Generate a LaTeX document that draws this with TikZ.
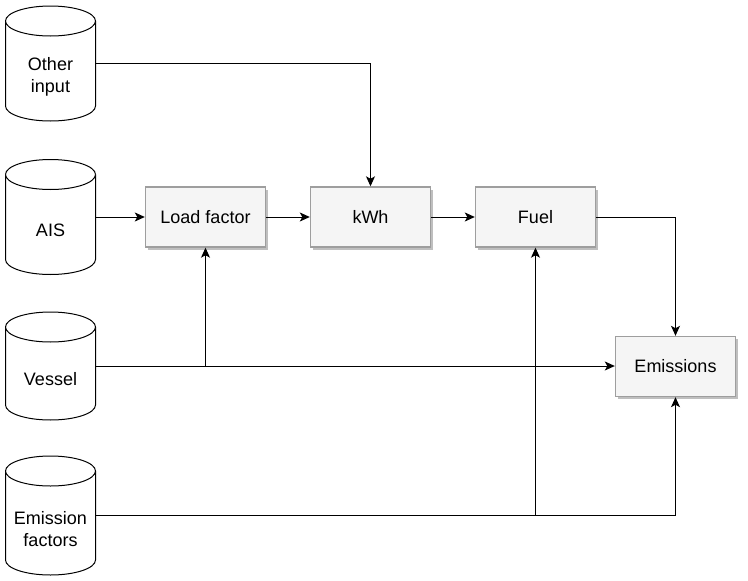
\documentclass[tikz,border=0pt]{standalone}
\usepackage{fontspec}
\setmainfont{Liberation Sans}
\usetikzlibrary{arrows.meta,shadows,calc}
\tikzset{
  every node/.style={font=\fontsize{18}{21.5}\selectfont},
  conn/.style={draw=black,line width=1pt,-{Stealth[length=10pt,width=9pt,inset=2.5pt]}},
  procbox/.style={draw=black!38,fill=black!4,line width=1.4pt,minimum width=120pt,minimum height=60pt,inner sep=0pt,
    drop shadow={shadow xshift=2.5pt,shadow yshift=-2.5pt,fill=black,opacity=0.25}},
  dbbody/.style={draw=black,fill=white,line width=1pt},
  dbanchor/.style={minimum width=90pt,inner sep=0pt,outer sep=0pt},
  dblabel/.style={align=center,inner sep=0pt}
}
% name, centre y, height, text
\newcommand{\dbcyl}[4]{%
  \node[dbanchor,minimum height=#3pt] (#1) at (50.5,#2) {};
  \draw[dbbody] ($(#1.north west)+(0,15)$) -- ($(#1.south west)+(0,-15)$)
     arc[start angle=180,end angle=0,x radius=45,y radius=15]
     -- ($(#1.north east)+(0,15)$)
     arc[start angle=0,end angle=-180,x radius=45,y radius=15] -- cycle;
  \draw[dbbody] ($(#1.north west)+(0,15)$) arc[start angle=180,end angle=0,x radius=45,y radius=15];
  \node[dblabel] (#1-label) at (50.5,#2+13.5) {#4};
}
\begin{document}
\begin{tikzpicture}[x=1pt,y=-1pt]
\useasboundingbox (0,0) rectangle (748,581);
\dbcyl{other}{63.5}{115}{Other\\input}
\dbcyl{ais}{217}{115}{AIS}
\dbcyl{vessel}{366}{108}{Vessel}
\dbcyl{ef}{515.5}{119}{Emission\\factors}
\node[procbox] (load) at (205.5,217) {Load factor};
\node[procbox] (kwh) at (370.5,217) {kWh};
\node[procbox] (fuel) at (535.5,217) {Fuel};
\node[procbox] (emis) at (675.5,366.5) {Emissions};
\draw[conn] (other.east) -| (kwh.north);
\draw[conn] (ais.east) -- (load.west);
\draw[conn] (load.east) -- (kwh.west);
\draw[conn] (kwh.east) -- (fuel.west);
\draw[conn] (fuel.east) -| (emis.north);
\draw[conn] (vessel.east) -- (emis.west |- vessel.east);
\draw[conn] (load.south |- vessel.east) -- (load.south);
\draw[conn] (ef.east) -| (emis.south);
\draw[conn] (fuel.south |- ef.east) -- (fuel.south);
\end{tikzpicture}
\end{document}
